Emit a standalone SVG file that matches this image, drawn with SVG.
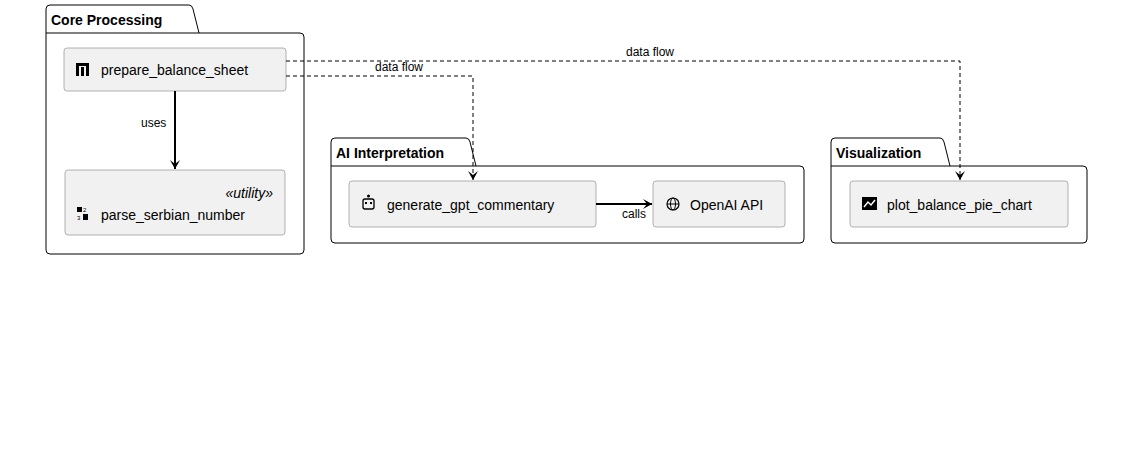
<svg xmlns="http://www.w3.org/2000/svg" width="1130" height="470" viewBox="0 0 1130 470">
<style>
text{font-family:"Liberation Sans",Arial,sans-serif;fill:#000}
.pkg{fill:#fff;stroke:#000;stroke-width:1}
.pt{font-weight:bold;font-size:14px}
.node{fill:#f1f1f1;stroke:#a0a0a0;stroke-width:0.8}
.nt{font-size:14px}
.lbl{font-size:12px}
.solid{stroke:#000;stroke-width:2;fill:none}
.dash{stroke:#000;stroke-width:1;fill:none;stroke-dasharray:4 3}
</style>
<defs>
<marker id="ah" markerWidth="10" markerHeight="10" refX="9" refY="5" orient="auto" markerUnits="userSpaceOnUse"><path d="M0,0 L9,5 L0,10 L4,5 Z" fill="#000"/></marker>
</defs>
<rect width="1130" height="470" fill="#fff"/>
<g id="core">
<path class="pkg" d="M46,33 V9 Q46,5 50,5 H189 Q192,5 193,9 L199,33 H300 Q304,33 304,37 V250 Q304,254 300,254 H50 Q46,254 46,250 Z M46,33 H199"/>
<text class="pt" x="51" y="25">Core Processing</text>
</g>
<g id="prepare">
<rect class="node" x="64" y="48" width="222" height="43" rx="3"/>
<rect x="76" y="63" width="13" height="3" fill="#000"/><rect x="76" y="66" width="3" height="10" fill="#000"/><rect x="81" y="67" width="3" height="9" fill="#000"/><rect x="86" y="66" width="3" height="10" fill="#000"/>
<text class="nt" x="101" y="75">prepare_balance_sheet</text>
</g>
<g id="parse">
<rect class="node" x="65" y="170" width="220" height="65" rx="3"/>
<text class="nt" x="273" y="198" text-anchor="end" font-style="italic">«utility»</text>
<rect x="77" y="207" width="5" height="5" fill="#000"/><text x="83" y="212" font-size="6">2</text><text x="77" y="220" font-size="6">3</text><rect x="83" y="214" width="5" height="6" fill="#000"/>
<text class="nt" x="101" y="220">parse_serbian_number</text>
</g>
<g id="ai">
<path class="pkg" d="M331,166 V142 Q331,138 335,138 H466 Q469,138 470,142 L476,166 H800 Q804,166 804,170 V239 Q804,243 800,243 H335 Q331,243 331,239 Z M331,166 H476"/>
<text class="pt" x="336" y="158">AI Interpretation</text>
</g>
<g id="generate">
<rect class="node" x="349" y="181" width="247" height="46" rx="3"/>
<rect x="363" y="199" width="11" height="10" rx="2" fill="none" stroke="#000" stroke-width="1.3"/><circle cx="368.5" cy="196" r="1.5" fill="#000"/><rect x="365" y="202" width="2" height="2" fill="#000"/><rect x="370" y="202" width="2" height="2" fill="#000"/>
<text class="nt" x="387" y="210">generate_gpt_commentary</text>
</g>
<g id="openai">
<rect class="node" x="653" y="181" width="132" height="46" rx="3"/>
<circle cx="673" cy="204" r="6" fill="none" stroke="#000" stroke-width="1.2"/><ellipse cx="673" cy="204" rx="2.5" ry="6" fill="none" stroke="#000" stroke-width="1"/><line x1="667" y1="204" x2="679" y2="204" stroke="#000" stroke-width="1"/>
<text class="nt" x="690" y="210">OpenAI API</text>
</g>
<g id="viz">
<path class="pkg" d="M831,166 V142 Q831,138 835,138 H940 Q943,138 944,142 L950,166 H1083 Q1087,166 1087,170 V239 Q1087,243 1083,243 H835 Q831,243 831,239 Z M831,166 H950"/>
<text class="pt" x="836" y="158">Visualization</text>
</g>
<g id="plot">
<rect class="node" x="850" y="181" width="218" height="46" rx="3"/>
<rect x="862" y="197" width="15" height="13" fill="#000"/><polyline points="864,207 868,202 871,205 875,200" fill="none" stroke="#fff" stroke-width="1.5"/>
<text class="nt" x="887" y="210">plot_balance_pie_chart</text>
</g>
<g id="connectors">
<line class="solid" x1="175" y1="91" x2="175" y2="169" marker-end="url(#ah)"/>
<text class="lbl" x="141" y="127">uses</text>
<line class="solid" x1="596" y1="204" x2="652" y2="204" marker-end="url(#ah)"/>
<text class="lbl" x="622" y="218">calls</text>
<polyline class="dash" points="286,61 960,61 960,180" marker-end="url(#ah)"/>
<text class="lbl" x="626" y="56">data flow</text>
<polyline class="dash" points="286,76 473,76 473,180" marker-end="url(#ah)"/>
<text class="lbl" x="375" y="71">data flow</text>
</g>
</svg>
